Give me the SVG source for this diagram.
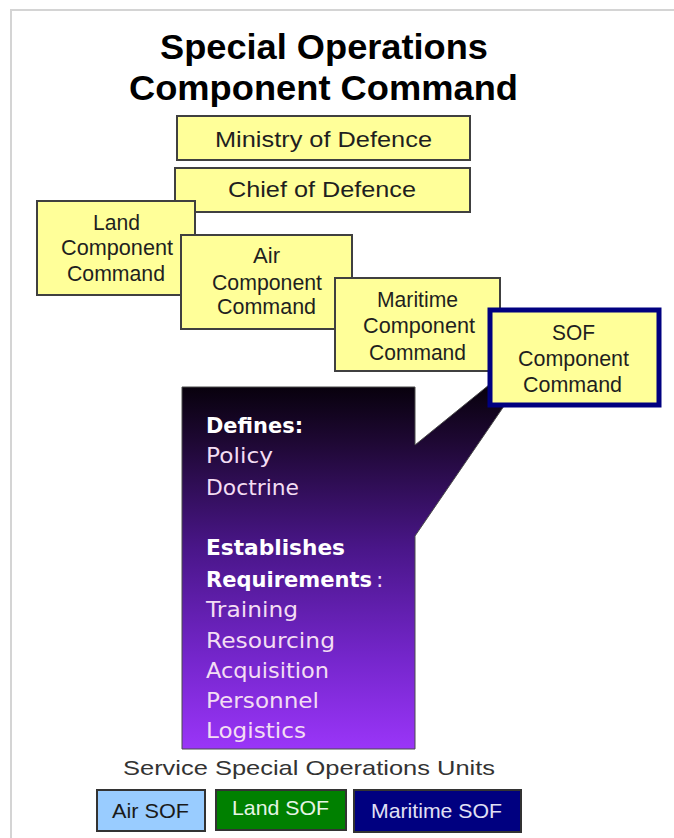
<svg xmlns="http://www.w3.org/2000/svg" width="674" height="838" viewBox="0 0 674 838">
<defs>
<linearGradient id="pg" gradientUnits="userSpaceOnUse" x1="0" y1="387" x2="0" y2="749">
<stop offset="0" stop-color="#08010d"/>
<stop offset="0.15" stop-color="#1e0833"/>
<stop offset="0.45" stop-color="#4a168a"/>
<stop offset="0.75" stop-color="#7526cc"/>
<stop offset="1" stop-color="#9a35f8"/>
</linearGradient>
<style>
.yb{fill:#ffff99;stroke:#404040;stroke-width:2}
.yt{font-family:"Liberation Sans",Arial,sans-serif;font-size:22px;fill:#1f1f1f}
.tt{font-family:"Liberation Sans",Arial,sans-serif;font-size:35px;font-weight:bold;fill:#000}
.ph{font-family:"DejaVu Sans",Verdana,sans-serif;font-size:22px;font-weight:bold;fill:#ffffff}
.pi{font-family:"DejaVu Sans",Verdana,sans-serif;font-size:22px;fill:#f3ddf3}
.bt{font-family:"Liberation Sans",Arial,sans-serif;font-size:21px}
</style>
</defs>
<rect width="674" height="838" fill="#ffffff"/>
<path d="M11,838 V10 H674" fill="none" stroke="#d4d4d4" stroke-width="2"/>

<g id="title">
<text class="tt" x="160" y="59" textLength="328" lengthAdjust="spacingAndGlyphs">Special Operations</text>
<text class="tt" x="129" y="100" textLength="389" lengthAdjust="spacingAndGlyphs">Component Command</text>
</g>

<g id="ministry">
<rect class="yb" x="177" y="116" width="293" height="44"/>
<text class="yt" x="215" y="147" textLength="217" lengthAdjust="spacingAndGlyphs">Ministry of Defence</text>
</g>
<g id="chief">
<rect class="yb" x="175" y="168" width="295" height="44"/>
<text class="yt" x="228" y="197" textLength="188" lengthAdjust="spacingAndGlyphs">Chief of Defence</text>
</g>
<g id="land">
<rect class="yb" x="37" y="201" width="158" height="94"/>
<text class="yt" x="93" y="230" textLength="47" lengthAdjust="spacingAndGlyphs">Land</text>
<text class="yt" x="61" y="255" textLength="112" lengthAdjust="spacingAndGlyphs">Component</text>
<text class="yt" x="67" y="281" textLength="98" lengthAdjust="spacingAndGlyphs">Command</text>
</g>
<g id="air">
<rect class="yb" x="181" y="235" width="171" height="94"/>
<text class="yt" x="253" y="263" textLength="27" lengthAdjust="spacingAndGlyphs">Air</text>
<text class="yt" x="212" y="290" textLength="110" lengthAdjust="spacingAndGlyphs">Component</text>
<text class="yt" x="217" y="314" textLength="99" lengthAdjust="spacingAndGlyphs">Command</text>
</g>
<g id="maritime">
<rect class="yb" x="335" y="278" width="165" height="93"/>
<text class="yt" x="377" y="307" textLength="81" lengthAdjust="spacingAndGlyphs">Maritime</text>
<text class="yt" x="363" y="333" textLength="112" lengthAdjust="spacingAndGlyphs">Component</text>
<text class="yt" x="369" y="360" textLength="97" lengthAdjust="spacingAndGlyphs">Command</text>
</g>

<g id="connectors">
<path d="M182,387 H415 V445 L500,376 L515,390 L415,536 V749 H182 Z" fill="url(#pg)" stroke="#4a4a4a" stroke-width="1"/>
</g>

<g id="sof">
<rect x="490" y="310" width="169" height="95" fill="#ffff99" stroke="#000080" stroke-width="5"/>
<text class="yt" x="552" y="340" textLength="43" lengthAdjust="spacingAndGlyphs">SOF</text>
<text class="yt" x="518" y="366" textLength="111" lengthAdjust="spacingAndGlyphs">Component</text>
<text class="yt" x="523" y="392" textLength="99" lengthAdjust="spacingAndGlyphs">Command</text>
</g>

<g id="purple-box">
<text class="ph" x="206" y="433" textLength="97" lengthAdjust="spacingAndGlyphs">Defines:</text>
<text class="pi" x="206" y="463" textLength="67" lengthAdjust="spacingAndGlyphs">Policy</text>
<text class="pi" x="206" y="495" textLength="93" lengthAdjust="spacingAndGlyphs">Doctrine</text>
<text class="ph" x="206" y="555" textLength="139" lengthAdjust="spacingAndGlyphs">Establishes</text>
<text class="ph" x="206" y="587" style="font-size:21px" textLength="166" lengthAdjust="spacingAndGlyphs">Requirements</text>
<text class="pi" x="376" y="587">:</text>
<text class="pi" x="206" y="617" textLength="92" lengthAdjust="spacingAndGlyphs">Training</text>
<text class="pi" x="206" y="648" textLength="129" lengthAdjust="spacingAndGlyphs">Resourcing</text>
<text class="pi" x="206" y="678" textLength="123" lengthAdjust="spacingAndGlyphs">Acquisition</text>
<text class="pi" x="206" y="708" textLength="113" lengthAdjust="spacingAndGlyphs">Personnel</text>
<text class="pi" x="206" y="738" textLength="100" lengthAdjust="spacingAndGlyphs">Logistics</text>
</g>

<g id="units-label">
<text class="bt" x="123" y="775" fill="#333333" textLength="372" lengthAdjust="spacingAndGlyphs">Service Special Operations Units</text>
</g>
<g id="air-sof">
<rect x="97" y="790" width="108" height="41" fill="#99ccff" stroke="#333333" stroke-width="2"/>
<text class="bt" x="112" y="818" fill="#1a1a1a" textLength="77" lengthAdjust="spacingAndGlyphs">Air SOF</text>
</g>
<g id="land-sof">
<rect x="216" y="790" width="130" height="40" fill="#008000" stroke="#333333" stroke-width="2"/>
<text class="bt" x="232" y="815" fill="#e6f5e6" textLength="97" lengthAdjust="spacingAndGlyphs">Land SOF</text>
</g>
<g id="maritime-sof">
<rect x="354" y="790" width="167" height="42" fill="#000080" stroke="#333333" stroke-width="2"/>
<text class="bt" x="371" y="818" fill="#e0e0f5" textLength="131" lengthAdjust="spacingAndGlyphs">Maritime SOF</text>
</g>
</svg>
